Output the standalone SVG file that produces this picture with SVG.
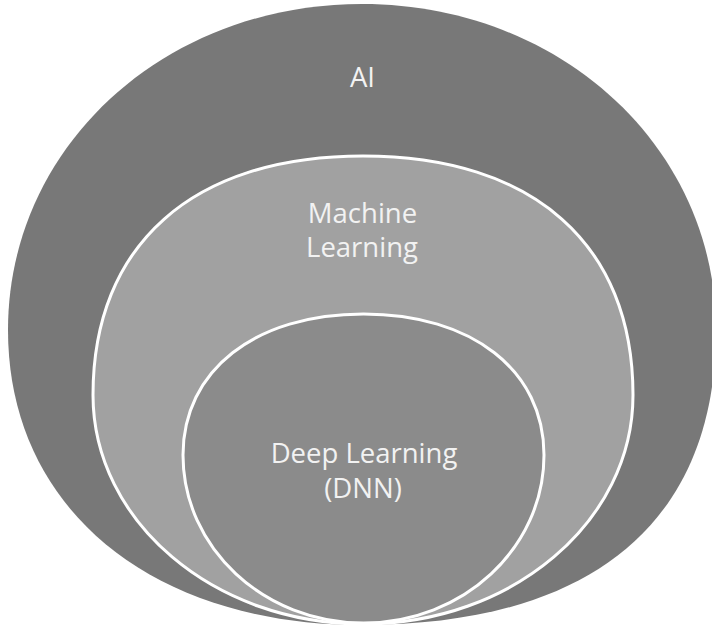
<svg xmlns="http://www.w3.org/2000/svg" width="712" height="629" viewBox="0 0 712 629">
  <style>
    .lbl { font-family: "Open Sans", "Liberation Sans", sans-serif; font-size: 27.5px; fill: #f2f2f2; text-anchor: middle; }
    .ring { stroke: #ffffff; stroke-width: 3; }
  </style>
  <rect x="0" y="0" width="712" height="629" fill="#ffffff"/>
  <g id="ai">
    <path d="M 8,330 C 8,147.4 163.8,4 362,4 C 560.2,4 716,147.4 716,330 C 716,521.75 592.1,625 362,625 C 149.6,625 8,507 8,330 Z" fill="#787878"/>
    <text class="lbl" x="362.5" y="87">AI</text>
  </g>
  <g id="ml">
    <path class="ring" d="M 93,395 C 93,244.4 192.9,156 363,156 C 533.1,156 633,244.4 633,395 C 633,521.5 512.1,624 363,624 C 213.9,624 93,521.5 93,395 Z" fill="#a1a1a1"/>
    <text class="lbl" x="362.5" y="223">Machine</text>
    <text class="lbl" x="362" y="257">Learning</text>
  </g>
  <g id="dl">
    <path class="ring" d="M 183,455 C 183,370.4 255.2,314 363.5,314 C 471.8,314 544,370.4 544,455 C 544,547.8 463.2,623 363.5,623 C 263.8,623 183,547.8 183,455 Z" fill="#8b8b8b"/>
    <text class="lbl" x="364" y="463">Deep Learning</text>
    <text class="lbl" x="363" y="498">(DNN)</text>
  </g>
  <g id="connectors"></g>
</svg>
